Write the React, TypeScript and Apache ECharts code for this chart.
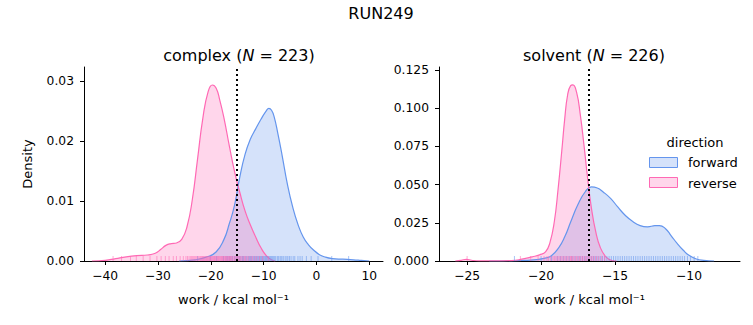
import React, { useEffect, useRef } from "react";
import * as echarts from "echarts";

// KDE curves: [work, density]
const complexForward: [number, number][] = [
  [-26, 0], [-23, 0.0002], [-21, 0.0006], [-19, 0.0015], [-17.5, 0.0036], [-16.5, 0.0062],
  [-15.5, 0.0093], [-14.5, 0.014], [-13.5, 0.0178], [-12.5, 0.0203], [-11.5, 0.022], [-10.5, 0.0236],
  [-9.5, 0.025], [-9, 0.0254], [-8.5, 0.0251], [-8, 0.024], [-7.3, 0.0212], [-6.5, 0.0176],
  [-5.5, 0.0128], [-4.5, 0.009], [-3.5, 0.0061], [-2.5, 0.004], [-1.5, 0.0027], [-0.5, 0.0018],
  [0.5, 0.0011], [1.5, 0.0007], [3, 0.0004], [5, 0.0003], [7, 0.0002], [8.5, 0.0001], [10, 0],
];
const complexReverse: [number, number][] = [
  [-42.5, 0], [-40, 0.0001], [-38, 0.0004], [-36, 0.0007], [-34, 0.0009], [-32, 0.001],
  [-30.5, 0.0013], [-29.5, 0.0019], [-28.5, 0.0026], [-27.5, 0.0029], [-26.5, 0.003], [-25.5, 0.0036],
  [-24.5, 0.0057], [-23.5, 0.0102], [-22.5, 0.017], [-21.5, 0.0238], [-20.5, 0.0282], [-19.7, 0.0293],
  [-19, 0.0288], [-18.3, 0.0268], [-17.5, 0.0238], [-16.5, 0.0192], [-15.5, 0.0149], [-14.5, 0.0114],
  [-13.5, 0.0083], [-12.5, 0.006], [-11.5, 0.004], [-10.5, 0.0022], [-9.5, 0.0009], [-8.5, 0.0002],
  [-7.8, 0],
];
const solventForward: [number, number][] = [
  [-23.5, 0], [-21.5, 0.0003], [-20.5, 0.0008], [-19.8, 0.0017], [-19.3, 0.0035], [-18.8, 0.0088],
  [-18.4, 0.0158], [-18, 0.0255], [-17.5, 0.0372], [-17, 0.0455], [-16.6, 0.0485], [-16.2, 0.0478],
  [-15.8, 0.0452], [-15.3, 0.041], [-14.8, 0.0352], [-14.3, 0.0298], [-13.8, 0.0258], [-13.3, 0.0232],
  [-12.8, 0.0224], [-12.3, 0.0231], [-12, 0.0232], [-11.6, 0.0213], [-11.2, 0.0165], [-10.8, 0.0115],
  [-10.4, 0.0072], [-10, 0.0037], [-9.5, 0.0013], [-9, 0.0004], [-8.3, 0],
];
const solventReverse: [number, number][] = [
  [-25.8, 0], [-25.4, 0.0004], [-25.05, 0.0011], [-24.7, 0.0005], [-24.2, 0.0001], [-23, 0.0001],
  [-22, 0.0003], [-21.3, 0.0012], [-20.6, 0.0027], [-20.1, 0.004], [-19.7, 0.006], [-19.4, 0.012],
  [-19.1, 0.026], [-18.85, 0.047], [-18.6, 0.072], [-18.4, 0.093], [-18.2, 0.109], [-18, 0.1148],
  [-17.85, 0.1153], [-17.6, 0.1105], [-17.35, 0.096], [-17.1, 0.076], [-16.85, 0.054], [-16.6, 0.035],
  [-16.3, 0.019], [-16, 0.009], [-15.6, 0.0025], [-15.2, 0.0003], [-14.9, 0],
];

// rug samples (approximate positions of the individual work values)
const complexForwardRug = [
  -22.5, -20.1, -18.9, -17.6, -17.1, -16.8, -16.5, -16.2, -15.9, -15.5, -15.2, -14.9, -14.6, -14.3,
  -14.0, -13.8, -13.5, -13.2, -12.9, -12.7, -12.5, -12.3, -12.0, -11.8, -11.6, -11.4, -11.2, -11.0,
  -10.8, -10.6, -10.4, -10.2, -10.0, -9.8, -9.6, -9.5, -9.3, -9.1, -8.9, -8.7, -8.5, -8.3, -8.1,
  -7.9, -7.7, -7.4, -7.2, -6.9, -6.7, -6.5, -6.2, -5.9, -5.6, -5.4, -5.1, -4.8, -4.4, -4.1, -3.5,
  -3.1, -2.7, -1.9, -1.0, 0.3, 2.9, 6.1,
];
const complexReverseRug = [
  -38.5, -36.9, -35.2, -34.1, -32.8, -31.5, -30.2, -29.4, -28.6, -27.9, -27.1, -26.5, -25.8, -25.2,
  -24.7, -24.4, -24.1, -23.8, -23.6, -23.4, -23.2, -23.0, -22.8, -22.6, -22.4, -22.2, -22.0, -21.85,
  -21.7, -21.55, -21.4, -21.25, -21.1, -20.95, -20.8, -20.65, -20.5, -20.35, -20.2, -20.05, -19.9,
  -19.75, -19.6, -19.45, -19.3, -19.15, -19.0, -18.85, -18.7, -18.55, -18.4, -18.25, -18.1, -17.95,
  -17.8, -17.65, -17.5, -17.35, -17.2, -17.05, -16.9, -16.75, -16.6, -16.45, -16.3, -16.15, -16.0,
  -15.8, -15.6, -15.4, -15.2, -15.0, -14.8, -14.6, -14.4, -14.1, -13.9, -13.6, -13.4, -13.1, -12.8,
  -12.4, -12.1, -11.7, -11.3, -10.8, -10.2, -9.1,
];
const solventForwardRug = [
  -21.8, -20.0, -19.3, -18.9, -18.7, -18.5, -18.3, -18.1, -17.9, -17.7, -17.5, -17.35, -17.2,
  -17.05, -16.9, -16.75, -16.6, -16.45, -16.3, -16.15, -16.0, -15.85, -15.7, -15.55, -15.4, -15.25,
  -15.1, -14.95, -14.8, -14.65, -14.5, -14.35, -14.2, -14.05, -13.9, -13.75, -13.6, -13.45, -13.3,
  -13.15, -13.0, -12.85, -12.7, -12.55, -12.4, -12.25, -12.1, -11.95, -11.8, -11.65, -11.5, -11.35,
  -11.2, -11.05, -10.9, -10.75, -10.6, -10.45, -10.3, -10.1, -9.9, -9.65, -9.4,
];
const solventReverseRug = [
  -25.0, -21.4, -20.7, -20.2, -19.8, -19.6, -19.5, -19.35, -19.2, -19.1, -19.0, -18.9, -18.8,
  -18.7, -18.6, -18.5, -18.4, -18.3, -18.2, -18.1, -18.0, -17.95, -17.9, -17.8, -17.7, -17.6, -17.5,
  -17.4, -17.3, -17.2, -17.1, -17.0, -16.9, -16.8, -16.7, -16.6, -16.5, -16.4, -16.25, -16.1, -15.9,
  -15.7,
];

const complexTicksX = [-40, -30, -20, -10, 0, 10];
const complexTicksY = [0, 0.01, 0.02, 0.03];
const solventTicksX = [-25, -20, -15, -10];
const solventTicksY = [0, 0.025, 0.05, 0.075, 0.1, 0.125];
const complexMean = -15.1;
const solventMean = -16.8;

const FONT = "DejaVu Sans";
const BLUE = "#6495ED";
const PINK = "#FF69B4";
const minus = (v: number) => String(v).replace("-", "\u2212");

function xAxis(gridIndex: number, min: number, max: number, ticks: number[]) {
  return {
    type: "value", gridIndex, min, max,
    name: "work / kcal mol\u207B\u00B9", nameLocation: "middle", nameGap: 32,
    nameTextStyle: { fontFamily: FONT, fontSize: 13, color: "#000" },
    axisLine: { onZero: false, lineStyle: { color: "#000", width: 1 } },
    axisTick: { customValues: ticks, length: 4, lineStyle: { color: "#000" } },
    axisLabel: { customValues: ticks, formatter: minus, fontFamily: FONT, fontSize: 12.3, color: "#000", margin: 9 },
    splitLine: { show: false },
  };
}
function yAxis(gridIndex: number, max: number, ticks: number[], digits: number, name: string) {
  return {
    type: "value", gridIndex, min: 0, max,
    name, nameLocation: "middle", nameGap: 50,
    nameTextStyle: { fontFamily: FONT, fontSize: 13, color: "#000" },
    axisLine: { show: true, onZero: false, lineStyle: { color: "#000", width: 1 } },
    axisTick: { show: true, customValues: ticks, length: 4, lineStyle: { color: "#000" } },
    axisLabel: { customValues: ticks, formatter: (v: number) => v.toFixed(digits), fontFamily: FONT, fontSize: 12.3, color: "#000", margin: 10 },
    splitLine: { show: false },
  };
}
function kde(data: [number, number][], color: string, fill: string, idx: number) {
  return {
    type: "line", xAxisIndex: idx, yAxisIndex: idx, data, smooth: 0.5,
    showSymbol: false, symbol: "none", lineStyle: { color, width: 1.2 },
    areaStyle: { color: fill, opacity: 1 }, z: 2,
  };
}
function rug(values: number[], color: string, idx: number) {
  return {
    type: "scatter", xAxisIndex: idx, yAxisIndex: idx, data: values.map((v) => [v, 0]),
    symbol: "rect", symbolSize: [1, 5], symbolOffset: [0, -2.5],
    itemStyle: { color, opacity: 0.55 }, z: 3, silent: true,
  };
}
function vline(x: number, idx: number) {
  return {
    type: "line", xAxisIndex: idx, yAxisIndex: idx, data: [], z: 5,
    markLine: {
      silent: true, symbol: "none", label: { show: false },
      lineStyle: { color: "#000", width: 2, type: [2, 3] },
      data: [{ xAxis: x }],
    },
  };
}

export default function App() {
  const ref = useRef<HTMLDivElement>(null);
  useEffect(() => {
    const chart = echarts.init(ref.current!, null, { renderer: "svg" });
    const blueFill = "rgba(100,149,237,0.27)";
    const pinkFill = "rgba(255,105,180,0.27)";
    const titleStyle = {
      fontFamily: FONT, fontSize: 16, fontWeight: "normal", color: "#000",
      rich: { i: { fontFamily: FONT, fontSize: 16, fontStyle: "italic", color: "#000" } },
    };
    chart.setOption({
      animation: false,
      title: [
        { text: "RUN249", left: 376, top: 0, textAlign: "center", textStyle: titleStyle },
        { text: "complex ({i|N} = 223)", left: 234, top: 42, textAlign: "center", textStyle: titleStyle },
        { text: "solvent ({i|N} = 226)", left: 589, top: 42, textAlign: "center", textStyle: titleStyle },
      ],
      grid: [
        { left: 84, top: 67, width: 299, height: 194 },
        { left: 439, top: 67, width: 301, height: 194 },
      ],
      xAxis: [xAxis(0, -44, 12.6, complexTicksX), xAxis(1, -26.9, -6.55, solventTicksX)],
      yAxis: [yAxis(0, 0.0323, complexTicksY, 2, "Density"), yAxis(1, 0.127, solventTicksY, 3, "")],
      series: [
        kde(complexForward, BLUE, blueFill, 0),
        kde(complexReverse, PINK, pinkFill, 0),
        rug(complexForwardRug, BLUE, 0),
        rug(complexReverseRug, PINK, 0),
        vline(complexMean, 0),
        kde(solventForward, BLUE, blueFill, 1),
        kde(solventReverse, PINK, pinkFill, 1),
        rug(solventForwardRug, BLUE, 1),
        rug(solventReverseRug, PINK, 1),
        vline(solventMean, 1),
      ],
      graphic: [
        { type: "text", x: 695, y: 142, style: { text: "direction", font: `13px "${FONT}"`, fill: "#000", textAlign: "center", textVerticalAlign: "middle" }, z: 10 },
        { type: "rect", shape: { x: 649.5, y: 157.5, width: 28, height: 10 }, style: { fill: blueFill, stroke: BLUE, lineWidth: 1 }, z: 10 },
        { type: "text", x: 688, y: 162, style: { text: "forward", font: `13px "${FONT}"`, fill: "#000", textAlign: "left", textVerticalAlign: "middle" }, z: 10 },
        { type: "rect", shape: { x: 649.5, y: 177.5, width: 28, height: 10 }, style: { fill: pinkFill, stroke: PINK, lineWidth: 1 }, z: 10 },
        { type: "text", x: 688, y: 183, style: { text: "reverse", font: `13px "${FONT}"`, fill: "#000", textAlign: "left", textVerticalAlign: "middle" }, z: 10 },
      ],
    });
    return () => chart.dispose();
  }, []);
  return <div ref={ref} style={{ width: 753, height: 325, position: "absolute", left: 0, top: 0 }} />;
}
